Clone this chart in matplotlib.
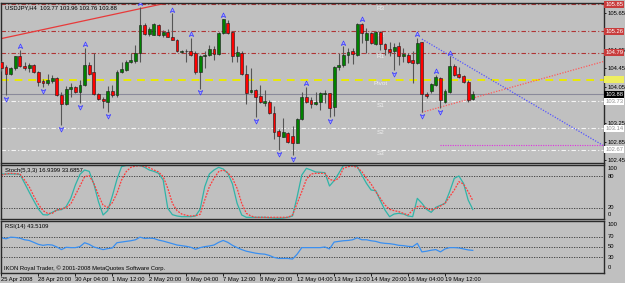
import numpy as np
import matplotlib
matplotlib.use('Agg')
import matplotlib.pyplot as plt
from matplotlib.path import Path
from matplotlib import transforms

plt.rcParams['font.family'] = ['Liberation Sans', 'DejaVu Sans']

W, H = 625, 283
BG = '#c0c0c0'

### USDJPY H4 - swiece (O, H, L, C)
opens = [104.58, 104.49, 104.33, 104.45, 104.71, 104.51, 104.45, 104.52, 104.36, 104.18,
         104.12, 104.18, 104.23, 103.87, 103.67, 104.01, 104.04, 103.94, 104.09, 104.52,
         104.36, 103.89, 103.79, 103.72, 103.96, 103.87, 104.36, 104.42, 104.59, 104.61,
         104.78, 105.40, 105.20, 105.18, 105.40, 105.17, 105.25, 105.14, 105.07, 104.81,
         104.82, 104.82, 104.78, 104.36, 104.71, 104.74, 104.87, 104.77, 105.22, 105.44,
         105.24, 104.72, 104.78, 104.33, 103.93, 103.98, 103.85, 103.70, 103.72, 103.47,
         103.08, 102.96, 103.03, 102.97, 102.83, 103.34, 103.83, 103.75, 103.67, 103.72,
         103.90, 103.91, 103.60, 104.47, 104.52, 104.74, 104.82, 104.74, 105.42, 105.06,
         105.23, 104.98, 105.25, 104.98, 104.87, 104.82, 104.94, 104.72, 104.74, 104.63,
         104.56, 105.03, 103.90, 103.96, 104.09, 104.25, 103.72, 103.94, 104.50, 104.33,
         104.28, 104.16, 103.77]
highs = [104.61, 104.52, 104.49, 104.72, 104.85, 104.60, 104.56, 104.55, 104.40, 104.21,
         104.33, 104.31, 104.27, 103.94, 104.07, 104.12, 104.07, 104.20, 104.89, 104.58,
         104.78, 103.92, 103.83, 104.07, 104.09, 104.42, 104.58, 104.63, 104.78, 104.96,
         105.80, 105.44, 105.36, 105.44, 105.42, 105.29, 105.30, 105.65, 105.09, 104.85,
         104.87, 105.11, 104.82, 104.74, 104.82, 104.96, 104.93, 105.25, 105.54, 105.51,
         105.27, 104.93, 104.82, 104.52, 104.45, 104.01, 104.09, 103.98, 103.76, 103.63,
         103.12, 103.36, 103.06, 103.18, 103.36, 103.94, 104.05, 103.83, 103.94, 103.94,
         103.98, 103.92, 104.50, 104.78, 104.93, 104.89, 104.90, 105.44, 105.44, 105.33,
         105.25, 105.27, 105.27, 105.01, 105.03, 105.01, 105.03, 104.89, 104.78, 104.82,
         105.11, 105.03, 103.94, 104.14, 104.31, 104.27, 104.01, 104.71, 104.55, 104.49,
         104.31, 104.20, 103.96]
lows = [104.40, 103.87, 104.31, 104.42, 104.49, 104.42, 104.38, 104.34, 104.07, 104.05,
        104.09, 104.12, 103.85, 103.21, 103.65, 103.83, 103.92, 103.69, 104.07, 104.31,
        103.87, 103.75, 103.58, 103.50, 103.83, 103.83, 104.34, 104.40, 104.56, 104.56,
        104.60, 105.18, 105.16, 105.17, 105.16, 105.14, 105.13, 105.06, 104.80, 104.78,
        104.60, 104.72, 104.33, 104.01, 104.45, 104.71, 104.63, 104.74, 105.20, 105.20,
        104.58, 104.58, 104.31, 103.67, 103.91, 103.38, 103.69, 103.63, 103.45, 102.90,
        102.67, 102.94, 102.83, 102.56, 102.81, 103.32, 103.69, 103.58, 103.65, 103.54,
        103.69, 103.38, 103.40, 104.42, 104.49, 104.56, 104.55, 104.72, 105.00, 104.78,
        104.98, 104.96, 104.85, 104.74, 104.71, 104.42, 104.52, 104.60, 104.56, 104.12,
        104.55, 103.50, 103.80, 103.91, 104.07, 103.58, 103.70, 103.92, 104.28, 104.23,
        104.14, 103.72, 103.76]
closes = [104.45, 104.33, 104.45, 104.71, 104.51, 104.45, 104.52, 104.36, 104.16, 104.12,
          104.20, 104.23, 103.87, 103.67, 104.01, 104.04, 103.94, 104.09, 104.52, 104.33,
          103.89, 103.78, 103.74, 103.96, 103.87, 104.38, 104.43, 104.60, 104.63, 104.78,
          105.40, 105.20, 105.31, 105.42, 105.17, 105.25, 105.14, 105.07, 104.82, 104.84,
          104.84, 104.74, 104.36, 104.71, 104.74, 104.87, 104.77, 105.22, 105.53, 105.22,
          104.71, 104.80, 104.33, 103.92, 103.98, 103.83, 103.71, 103.74, 103.47, 103.07,
          102.97, 103.05, 102.85, 102.83, 103.34, 103.83, 103.72, 103.67, 103.72, 103.91,
          103.92, 103.58, 104.49, 104.52, 104.74, 104.80, 104.76, 105.42, 105.22, 105.23,
          105.00, 105.25, 104.98, 104.87, 104.81, 104.91, 104.72, 104.76, 104.59, 104.56,
          105.01, 103.88, 103.85, 104.11, 104.27, 103.75, 103.96, 104.50, 104.31, 104.27,
          104.16, 103.76, 103.88]

fractal_up = [4, 18, 30, 37, 41, 48, 66, 74, 78, 90, 94, 97]
fractal_down = [1, 9, 13, 17, 23, 43, 55, 60, 63, 71, 85, 91, 95]

### Stochastic (5,3,3)
stoch_k = [83.8, 83.8, 83.8, 83.8, 83.2, 66.8, 49.7, 33.3, 17.5, 6.8,
           6.2, 11.2, 15.6, 16.3, 22.0, 37.7, 63.0, 83.2, 91.4, 88.8,
           64.9, 31.4, 6.2, 14.4, 42.2, 73.7, 97.7, 100, 100, 100,
           100, 96.4, 91.4, 88.8, 85.1, 72.4, 18.8, 6.8, 4.3, 3.0,
           3.0, 3.0, 4.3, 16.9, 59.8, 83.8, 91.4, 96.4, 93.3, 85.1,
           64.9, 28.3, 6.2, 1.8, 1.8, 1.8, 1.8, 1.8, 1.1, 0.5,
           0.0, 0.5, 1.8, 4.3, 40.9, 81.9, 94.5, 91.4, 87.6, 87.0,
           86.3, 61.1, 71.2, 85.1, 100, 100, 100, 97.7, 81.9, 66.1,
           53.5, 52.2, 33.3, 15.6, 3.0, 8.1, 9.3, 8.1, 4.3, 3.0,
           37.7, 28.3, 16.9, 11.2, 20.7, 24.5, 28.3, 50.4, 75.6, 80.0,
           66.1, 34.6, 16.94]
stoch_d = [81.9, 83.8, 85.1, 84.4, 83.8, 72.4, 59.8, 42.2, 26.4, 14.4,
           9.3, 9.3, 15.6, 17.5, 20.1, 27.0, 44.0, 61.1, 78.8, 80.6,
           66.1, 44.0, 24.5, 20.7, 29.5, 47.2, 72.4, 88.2, 96.4, 98.9,
           99.6, 98.3, 95.8, 91.4, 87.6, 78.8, 56.7, 28.3, 14.4, 8.1,
           5.5, 4.3, 4.9, 7.4, 34.6, 59.8, 75.6, 88.2, 91.4, 86.3,
           75.6, 56.7, 28.3, 9.3, 4.3, 1.8, 1.8, 1.8, 1.8, 1.8,
           1.8, 1.8, 1.8, 6.2, 28.3, 50.4, 73.7, 83.8, 85.1, 85.1,
           85.1, 73.7, 71.2, 75.6, 94.5, 97.7, 98.9, 96.4, 88.2, 75.6,
           64.9, 50.4, 37.7, 25.1, 16.9, 14.4, 12.5, 9.3, 6.2, 15.6,
           22.0, 23.2, 18.8, 15.6, 18.8, 23.2, 28.3, 40.9, 53.5, 69.3,
           64.9, 50.4, 33.69]

### RSI(14)
rsi = [67.7, 65.8, 68.9, 68.3, 67.0, 63.9, 62.6, 58.9, 55.1, 53.2,
       54.5, 53.8, 50.0, 45.0, 49.4, 48.8, 48.8, 50.7, 58.2, 55.1,
       50.0, 47.5, 45.0, 46.9, 48.2, 58.2, 59.5, 60.8, 62.0, 63.9,
       68.9, 66.4, 67.0, 66.4, 63.3, 61.4, 58.9, 56.4, 53.8, 52.6,
       51.3, 49.4, 45.6, 48.8, 50.7, 52.0, 53.8, 58.9, 62.6, 58.9,
       53.2, 48.8, 45.0, 41.9, 40.0, 38.1, 36.9, 36.2, 33.7, 29.9,
       28.0, 28.0, 28.0, 26.8, 36.2, 48.8, 48.8, 48.8, 48.8, 48.8,
       50.0, 46.3, 59.5, 60.8, 62.0, 62.6, 63.9, 67.7, 63.9, 63.9,
       62.0, 60.8, 58.2, 57.0, 56.4, 55.1, 53.2, 52.6, 51.3, 50.7,
       57.0, 40.6, 41.9, 43.8, 45.0, 40.6, 46.3, 48.8, 48.8, 48.2,
       46.3, 44.4, 43.51]

### Poziomy pivot
pivot_names = ['R3', 'R2', 'R1', 'Pivot', 'S1', 'S2', 'S3']
pivot_values = [105.85, 105.26, 104.79, 104.20, 103.73, 103.14, 102.67]
bid = 103.88

### Linie trendu (bar, cena) -> (bar, cena)
trend_red = [(-1, 105.08), (45, 106.08)]
trend_blue = [(91, 105.09), (131, 102.72)]
trend_red_dot = [(91, 103.49), (131, 104.62)]
level_magenta = [(95, 102.78), (131, 102.78)]

time_labels = ['25 Apr 2008', '28 Apr 20:00', '30 Apr 04:00', '1 May 12:00', '2 May 20:00',
               '6 May 04:00', '7 May 12:00', '8 May 20:00', '12 May 04:00', '13 May 12:00',
               '14 May 20:00', '16 May 04:00', '19 May 12:00']
price_ticks = [105.65, 104.85, 104.45, 104.05, 103.25, 102.85, 102.45]

FS = 4.2
fig = plt.figure(figsize=(W / 100, H / 100), dpi=100, facecolor=BG)


def box(x0, y0, x1, y1):
    a = fig.add_axes([x0 / W, 1 - y1 / H, (x1 - x0) / W, (y1 - y0) / H])
    a.set_facecolor(BG)
    for s in a.spines.values():
        s.set_color('#2a2a2a')
        s.set_linewidth(1.0)
    a.set_xlim(-0.09, 130.4)
    a.set_xticks([])
    a.set_yticks([])
    return a


ax = box(1, 3, 604, 163)
ax_st = box(1, 164.5, 604, 219)
ax_rsi = box(1, 221, 604, 273)

### Glowny wykres
ax.set_ylim(102.382, 105.879)
idx = np.arange(len(opens))
o = np.array(opens)
c = np.array(closes)
hi = np.array(highs)
lo = np.array(lows)
bull = c >= o

for name, v in zip(pivot_names, pivot_values):
    if name == 'Pivot':
        ax.axhline(v, color='#eaea00', lw=1.4, ls=(0, (4, 3)), zorder=1)
    elif name.startswith('R'):
        ax.axhline(v, color='#b03434', lw=0.8, ls=(0, (4, 2, 1, 2)), zorder=1)
    else:
        ax.axhline(v, color='#f6f6f6', lw=0.8, ls=(0, (4, 2, 1, 2)), zorder=1)
    ax.text(82, v - 0.088, name, ha='center', va='center', fontsize=4.6,
            color='#eeeeee', zorder=2)
ax.axhline(bid, color='#8a8a9a', lw=0.8, zorder=1)

ax.vlines(idx, lo, hi, color='#555555', lw=0.8, zorder=3)
body_lo = np.minimum(o, c)
body_h = np.maximum(np.abs(c - o), 0.015)
ax.bar(idx[bull], body_h[bull], bottom=body_lo[bull], width=0.62, color='#008200',
       edgecolor='#1a1a1a', lw=0.4, zorder=4)
ax.bar(idx[~bull], body_h[~bull], bottom=body_lo[~bull], width=0.62, color='#ff0000',
       edgecolor='#1a1a1a', lw=0.4, zorder=4)

up_mark = Path([(0, 1), (0.9, -0.8), (0, -0.3), (-0.9, -0.8), (0, 1)],
               [Path.MOVETO, Path.LINETO, Path.LINETO, Path.LINETO, Path.CLOSEPOLY])
dn_mark = Path([(0, -1), (0.9, 0.8), (0, 0.3), (-0.9, 0.8), (0, -1)],
               [Path.MOVETO, Path.LINETO, Path.LINETO, Path.LINETO, Path.CLOSEPOLY])
ax.plot(fractal_up, hi[fractal_up] + 0.085, ls='none', marker=up_mark, ms=3.6,
        mfc='#a8a8ff', mec='#3a3aff', mew=0.5, zorder=5)
ax.plot(fractal_down, lo[fractal_down] - 0.085, ls='none', marker=dn_mark, ms=3.6,
        mfc='#a8a8ff', mec='#3a3aff', mew=0.5, zorder=5)

ax.plot(*zip(*trend_red), color='#e83a3a', lw=0.9, zorder=2)
ax.plot(*zip(*trend_blue), color='#5555ff', lw=0.9, ls=(0, (1, 1.2)), zorder=2)
ax.plot(*zip(*trend_red_dot), color='#ff5a5a', lw=0.9, ls=(0, (1, 1.2)), zorder=2)
ax.plot(*zip(*level_magenta), color='#e030e0', lw=0.8, ls=(0, (1, 1.2)), zorder=2)

ax.yaxis.tick_right()
ax.set_yticks(price_ticks)
ax.set_yticklabels([f'{t:.2f}' for t in price_ticks])
ax.tick_params(axis='y', labelsize=FS, length=1.5, pad=0.8, colors='#000000', width=0.6)

trans = transforms.blended_transform_factory(ax.transAxes, ax.transData)


def tag(v, txt, fc, tc):
    ax.text(1.002, v, txt, transform=trans, fontsize=FS, color=tc, va='center', ha='left',
            bbox=dict(boxstyle='square,pad=0.15', fc=fc, ec='none'), clip_on=False, zorder=10)


tag(105.85, '105.85', '#c83c3c', 'white')
tag(105.26, '105.26', '#c83c3c', 'white')
tag(104.79, '104.79', '#c83c3c', 'white')
tag(104.20, '104.20', '#eeee60', '#eeee60')
tag(bid, f'{bid:.2f}', '#000000', 'white')
tag(103.73, '103.73', '#ffffff', '#909090')
tag(103.14, '103.14', '#ffffff', '#909090')
tag(102.67, '102.67', '#ffffff', '#909090')

fig.text(5 / W, 1 - 7.5 / H, 'USDJPY,H4  103.77 103.96 103.76 103.88', fontsize=FS,
         color='#000000', va='center')

### Stochastic
ax_st.set_ylim(-1.4, 101.8)
for lv in (80, 20):
    ax_st.axhline(lv, color='#333333', lw=0.6, ls=(0, (1.5, 1.5)))
ax_st.plot(idx, stoch_k, color='#30b4a8', lw=0.9)
ax_st.plot(idx, stoch_d, color='#ff3c3c', lw=0.9, ls=(0, (1.5, 1)))
tr_st = transforms.blended_transform_factory(ax_st.transAxes, ax_st.transData)
for txt, yv in (('100', 94.5), ('80', 80), ('20', 20), ('0', 8)):
    ax_st.text(1.006, yv, txt, transform=tr_st, fontsize=FS, va='center', ha='left')
fig.text(5 / W, 1 - 170.5 / H, 'Stoch(5,3,3) 16.9399 33.6857', fontsize=FS, va='center')

### RSI
ax_rsi.set_ylim(0, 100)
for lv in (70, 50, 30):
    ax_rsi.axhline(lv, color='#333333', lw=0.6, ls=(0, (1.5, 1.5)))
ax_rsi.plot(idx, rsi, color='#3a8ff0', lw=0.9)
tr_rsi = transforms.blended_transform_factory(ax_rsi.transAxes, ax_rsi.transData)
for txt, yv in (('100', 93), ('70', 70), ('50', 50), ('30', 30), ('0', 10)):
    ax_rsi.text(1.006, yv, txt, transform=tr_rsi, fontsize=FS, va='center', ha='left')
fig.text(5 / W, 1 - 226.5 / H, 'RSI(14) 43.5109', fontsize=FS, va='center')
fig.text(4 / W, 1 - 268.5 / H, 'IKON Royal Trader, \u00a9 2001-2008 MetaQuotes Software Corp.',
         fontsize=FS, va='center')

ax_rsi.set_xticks(range(0, 97, 8))
ax_rsi.set_xticklabels(time_labels, ha='left')
ax_rsi.tick_params(axis='x', labelsize=FS, length=2, pad=0.8, width=0.6)

fig.savefig('out.png', dpi=100, facecolor=BG)
